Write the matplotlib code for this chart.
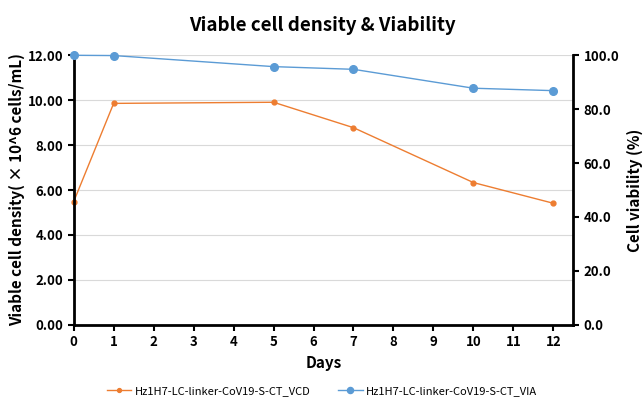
import matplotlib
matplotlib.use('Agg')
import matplotlib.pyplot as plt

plt.rcParams['font.family'] = ['Noto Sans CJK KR', 'DejaVu Sans']

days = [0, 1, 5, 7, 10, 12]
vcd = [5.48, 9.85, 9.90, 8.77, 6.33, 5.41]        # x10^6 cells/mL
viability = [99.9, 99.8, 95.7, 94.7, 87.7, 86.8]  # %

vcd_label = 'Hz1H7-LC-linker-CoV19-S-CT_VCD'
via_label = 'Hz1H7-LC-linker-CoV19-S-CT_VIA'

orange = '#ED7D31'
blue = '#5B9BD5'

fig = plt.figure(figsize=(6.44, 4.09), dpi=100)
ax1 = fig.add_axes([0.1144, 0.2054, 0.7759, 0.6601])
ax2 = ax1.twinx()

l1, = ax1.plot(days, vcd, color=orange, lw=1, marker='o', ms=3.5, label=vcd_label, clip_on=False)
l2, = ax2.plot(days, viability, color=blue, lw=1, marker='o', ms=5.5, label=via_label, clip_on=False)

ax1.set_xlim(0, 12.5)
ax1.set_ylim(0, 12)
ax2.set_ylim(0, 100)
ax1.set_xticks(range(0, 13))
ax1.set_yticks([0, 2, 4, 6, 8, 10, 12])
ax1.set_yticklabels([f'{v:.2f}' for v in [0, 2, 4, 6, 8, 10, 12]])
ax2.set_yticks([0, 20, 40, 60, 80, 100])
ax2.set_yticklabels([f'{v:.1f}' for v in [0, 20, 40, 60, 80, 100]])

ax1.grid(axis='y', color='#d9d9d9', lw=0.8)
ax1.set_axisbelow(True)

for ax in (ax1, ax2):
    ax.spines['top'].set_visible(False)
    for s in ('left', 'right', 'bottom'):
        ax.spines[s].set_linewidth(2)
        ax.spines[s].set_color('black')
    ax.tick_params(width=1.5, length=4, labelsize=9.5, direction='out')
ax2.spines['left'].set_visible(False)
ax2.spines['bottom'].set_visible(False)
ax1.spines['right'].set_visible(False)

for lab in ax1.get_xticklabels() + ax1.get_yticklabels() + ax2.get_yticklabels():
    lab.set_fontweight('bold')

ax1.set_xlabel('Days', fontsize=11, fontweight='bold', labelpad=4)
ax1.set_ylabel('Viable cell density( × 10^6 cells/mL)', fontsize=11, fontweight='bold', labelpad=2)
ax2.set_ylabel('Cell viability (%)', fontsize=11, fontweight='bold', labelpad=5)

fig.text(0.5, 0.937, 'Viable cell density & Viability', ha='center', va='center',
         fontsize=13.5, fontweight='bold')

fig.legend([l1, l2], [vcd_label, via_label], loc='center', bbox_to_anchor=(0.5, 0.045),
           ncol=2, frameon=False, fontsize=8, handlelength=2.2, handletextpad=0.3,
           columnspacing=2.5, markerscale=0.8)

fig.savefig('out.png', dpi=100)
